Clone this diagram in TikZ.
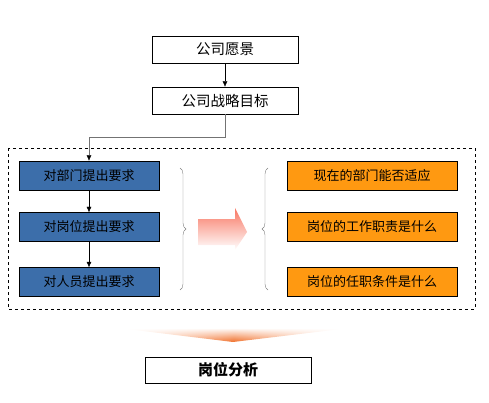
\documentclass[tikz,border=0pt]{standalone}
\usepackage{fontspec}
\newfontfamily\cjk{Noto Sans CJK SC}
\usetikzlibrary{arrows.meta,positioning,decorations.pathreplacing,fadings}
\definecolor{deptblue}{RGB}{60,110,170}
\definecolor{askorange}{RGB}{255,153,17}
\definecolor{arrowred}{RGB}{248,118,98}
\definecolor{tiporange}{RGB}{240,110,40}
\tikzstyle{block} = [rectangle, draw, fill=white, inner sep=0pt,
    minimum width=146pt, minimum height=27pt, font=\cjk\fontsize{14.5}{16}\selectfont]
\tikzstyle{demand} = [rectangle, draw, fill=deptblue, inner sep=0pt,
    minimum width=140pt, minimum height=29pt, font=\cjk\fontsize{13}{15}\selectfont]
\tikzstyle{question} = [rectangle, draw, fill=askorange, inner sep=0pt,
    minimum width=170pt, minimum height=29pt, font=\cjk\fontsize{13}{15}\selectfont]
\tikzstyle{line} = [draw, -{Latex[length=5.5pt,width=5pt,color=black]}]
\tikzstyle{bracket} = [draw=black!50, decorate, decoration={brace, amplitude=6pt}]

\begin{document}
\begin{tikzpicture}[align=center,node distance=51pt]
    \useasboundingbox (0,0) rectangle (489pt,-403pt);
    % Place nodes
    \node [block] at (225pt,-49.5pt) (vision) {公司愿景};
    \node [block, below of=vision] (goal) {公司战略目标};
    \node [demand, below of=goal, xshift=-136pt, yshift=-24pt] (dept) {对部门提出要求};
    \node [demand, below of=dept, yshift=-0.5pt] (post) {对岗位提出要求};
    \node [demand, below of=post, yshift=-4pt] (staff) {对人员提出要求};
    \node [question, right of=dept, xshift=232pt] (fit) {现在的部门能否适应};
    \node [question, right of=post, xshift=232pt] (duty) {岗位的工作职责是什么};
    \node [question, right of=staff, xshift=232pt] (cond) {岗位的任职条件是什么};
    \node [block, minimum width=166pt, minimum height=26pt, below of=staff, xshift=139pt, yshift=-37pt,
        font=\cjk\bfseries\fontsize{15}{17}\selectfont] (analysis) {岗位分析};
    % Frame, braces and fills
    \draw [dashed] (8pt,-148pt) rectangle (475pt,-309pt);
    \path [bracket] (180pt,-168pt) -- (180pt,-290pt);
    \path [bracket] (268pt,-290pt) -- (268pt,-168pt);
    \shade [top color=arrowred, bottom color=white]
        (198pt,-219pt) -- (235pt,-219pt) -- (235pt,-208pt) -- (247pt,-232pt)
        -- (235pt,-250pt) -- (235pt,-245pt) -- (198pt,-245pt) -- cycle;
    \shade [left color=white, right color=white, middle color=tiporange, path fading=north]
        (118pt,-328pt) -- (350pt,-328pt) -- (233pt,-342pt) -- cycle;
    % Draw edges
    \path [line] (vision) -- (goal);
    \path [line, draw=black!55] (goal.south) -- ++(0,-23pt) -| (dept.north);
    \path [line] (dept) -- (post);
    \path [line] (post) -- (staff);

\end{tikzpicture}
\end{document}
